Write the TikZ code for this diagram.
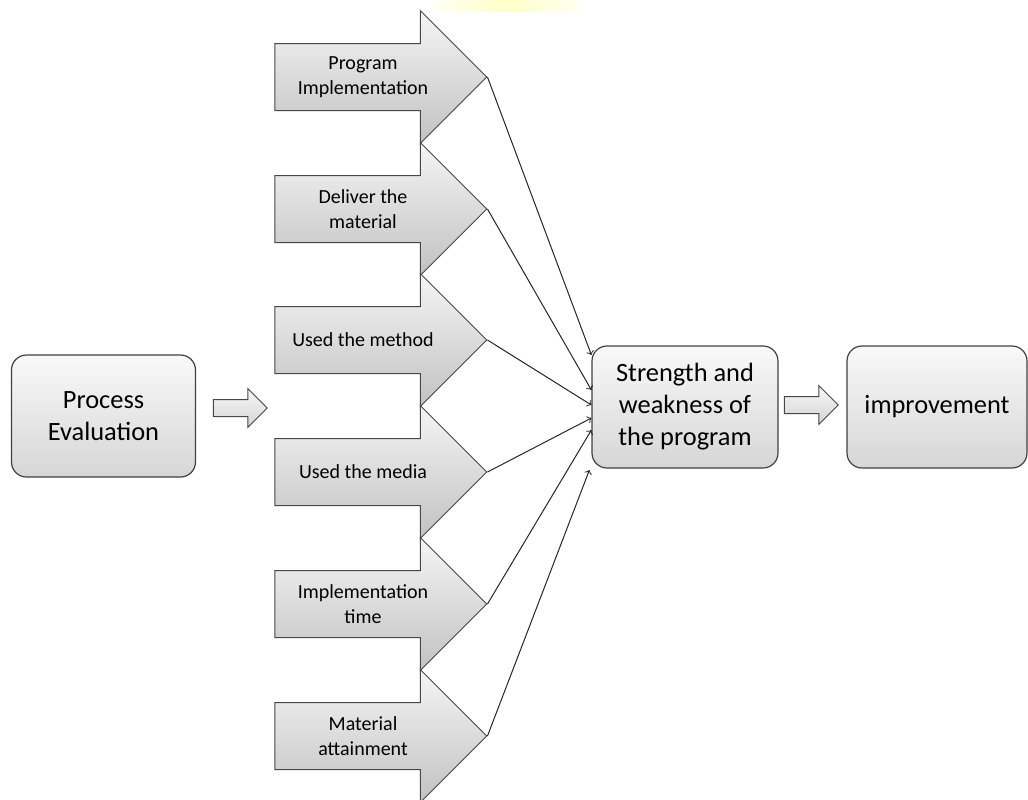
\documentclass[tikz,border=0pt]{standalone}
\usepackage{fontspec}
\setmainfont{Carlito}
\usetikzlibrary{arrows,shapes,positioning}

\begin{document}
\begin{tikzpicture}[x=0.5pt,y=-0.5pt,
  box/.style={draw=black!75,line width=0.6pt,rounded corners=7.5pt,
    top color=gray!5,bottom color=gray!32,minimum width=92pt,minimum height=61pt,
    align=center,font=\fontsize{13.2}{16}\selectfont},
  bigarrow/.style={single arrow,draw=black!72,line width=0.5pt,
    top color=gray!8,bottom color=gray!48,minimum height=106pt,minimum width=66pt,
    single arrow head extend=16.5pt,inner xsep=0pt,inner ysep=16.5pt},
  smallarrow/.style={single arrow,draw=black!72,line width=0.5pt,
    top color=gray!5,bottom color=gray!35,minimum height=27pt,minimum width=19pt,
    single arrow head extend=5.5pt,inner xsep=0pt,inner ysep=4pt},
  lbl/.style={align=center,font=\fontsize{10}{12.5}\selectfont},
  link/.style={->,black!85,line width=0.5pt}]
\useasboundingbox (0,0) rectangle (1028,799);

% faint yellow strip at the top
\shade[left color=yellow!4,right color=yellow!4,middle color=yellow!22] (433,0) rectangle (583,11);

% main boxes
\node[box] (pe) at (103.5,416) {Process\\Evaluation};
\node[box,minimum width=93pt] (sw) at (685,407) {Strength and\\weakness of\\the program};
\node[box,minimum width=90pt] (imp) at (937,407) {improvement};

% block arrows between the boxes
\node[smallarrow] (sa1) at (236,408) {};
\node[smallarrow] (sa2) at (807,405) {};

% the six aspects
\node[bigarrow] (a1) at (364,77) {};
\node[bigarrow] (a2) at (364,209) {};
\node[bigarrow] (a3) at (364,340) {};
\node[bigarrow] (a4) at (364,472) {};
\node[bigarrow] (a5) at (364,604) {};
\node[bigarrow] (a6) at (364,736) {};

\node[lbl] (l1) at (363,77) {Program\\Implementation};
\node[lbl] (l2) at (363,209) {Deliver the\\material};
\node[lbl] (l3) at (363,340) {Used the method};
\node[lbl] (l4) at (363,472) {Used the media};
\node[lbl] (l5) at (363,604) {Implementation\\time};
\node[lbl] (l6) at (363,736) {Material\\attainment};

% lines into the strength box
\draw[link] (a1.tip) -- ([yshift=26pt]sw.west);
\draw[link] (a2.tip) -- ([yshift=8.5pt]sw.west);
\draw[link] (a3.tip) -- ([yshift=1pt]sw.west);
\draw[link] (a4.tip) -- ([yshift=-5.5pt]sw.west);
\draw[link] (a5.tip) -- ([yshift=-11.5pt]sw.west);
\draw[link] (a6.tip) -- ([xshift=-1pt,yshift=-31.5pt]sw.west);
\end{tikzpicture}
\end{document}
